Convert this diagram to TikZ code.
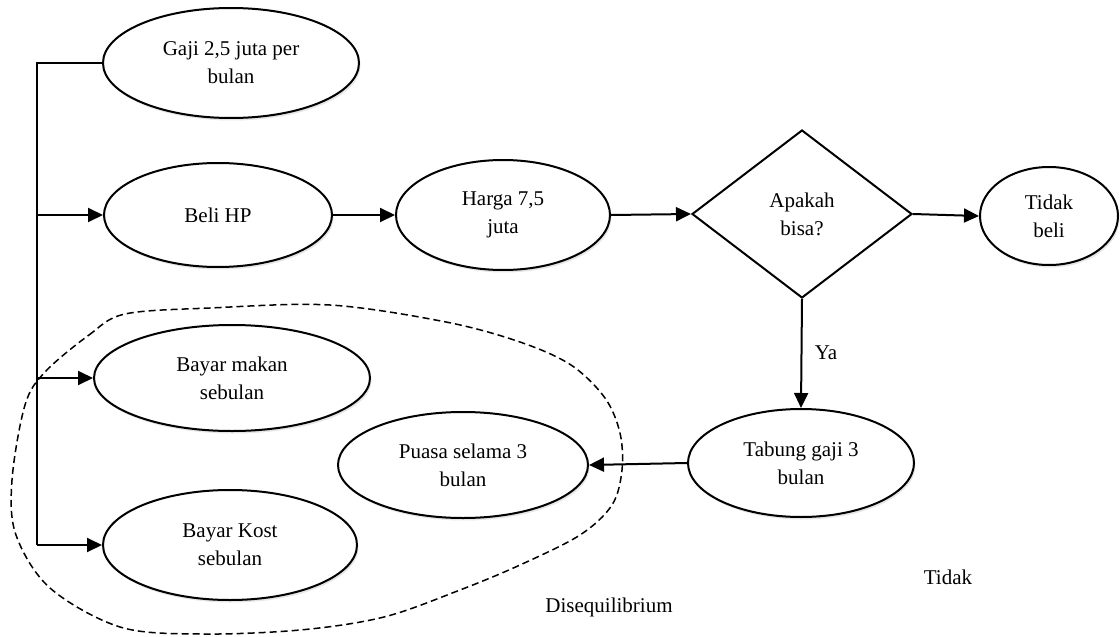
\documentclass[tikz,border=0pt]{standalone}
\usepackage{fontspec}
\setmainfont{Liberation Serif}
\usetikzlibrary{arrows.meta,shapes.geometric,shadows}
\begin{document}
\begin{tikzpicture}[x=1pt,y=-1pt,
  every node/.style={font=\fontsize{21}{28}\selectfont, align=center, inner sep=0pt},
  oval/.style={ellipse, draw, line width=2pt, fill=white,
    drop shadow={opacity=0.2, shadow xshift=1.5pt, shadow yshift=-2.5pt}},
  decide/.style={diamond, draw, line width=2pt, fill=white},
  arr/.style={line width=2pt, -{Triangle[length=15pt,width=14pt]}},
  plain/.style={line width=1.8pt},
  blob/.style={line width=1.5pt, dash pattern=on 7pt off 4pt}]
\useasboundingbox (0,0) rectangle (1120,637);

% boundary of the disequilibrium group
\draw[blob] plot[smooth cycle, tension=0.55] coordinates {
  (45,372) (89,335) (125,314) (210,308) (330,305) (446,322) (520,342)
  (571,365) (605,398) (620,433) (622,470) (612,505) (580,535)
  (520,565) (460,590) (384,617) (300,630) (200,634) (120,627)
  (50,588) (16,535) (12,480) (25,405)};

% nodes
\node[oval, minimum width=256pt, minimum height=110pt] (gaji) at (231,63) {Gaji 2,5 juta per\\bulan};
\node[oval, minimum width=228pt, minimum height=104pt] (beli) at (218,215) {Beli HP};
\node[oval, minimum width=214pt, minimum height=110pt] (harga) at (503,215) {Harga 7,5\\juta};
\node[decide, minimum width=220pt, minimum height=168pt] (tanya) at (802,214) {Apakah\\bisa?};
\node[oval, minimum width=138pt, minimum height=98pt] (tidakbeli) at (1049,216) {Tidak\\beli};
\node[oval, minimum width=276pt, minimum height=106pt] (makan) at (232,378) {Bayar makan\\sebulan};
\node[oval, minimum width=250pt, minimum height=106pt] (puasa) at (463,465) {Puasa selama 3\\bulan};
\node[oval, minimum width=254pt, minimum height=110pt] (kost) at (230,545) {Bayar Kost\\sebulan};
\node[oval, minimum width=226pt, minimum height=108pt] (tabung) at (801,463) {Tabung gaji 3\\bulan};

\node (ya) at (826,353) {Ya};
\node (tidak) at (948,577) {Tidak};
\node (dis) at (609,607) {Disequilibrium};

% left distribution bus
\coordinate (bustop) at (37,63);
\coordinate (busbot) at (37,545);
\draw[plain] (gaji.west) -- (bustop) -- (busbot);
\draw[arr] (busbot) -- (kost.west);
\draw[arr] (bustop |- beli.west) -- (beli.west);
\draw[arr] (bustop |- makan.west) -- (makan.west);

% main flow
\draw[arr] (beli.east) -- (harga.west);
\draw[arr] (harga.east) -- (tanya.west);
\draw[arr] (tanya.east) -- (tidakbeli.west);
\draw[arr] (tanya.south) -- (tabung.north);
\draw[arr] (tabung.west) -- (puasa.east);
\end{tikzpicture}
\end{document}
